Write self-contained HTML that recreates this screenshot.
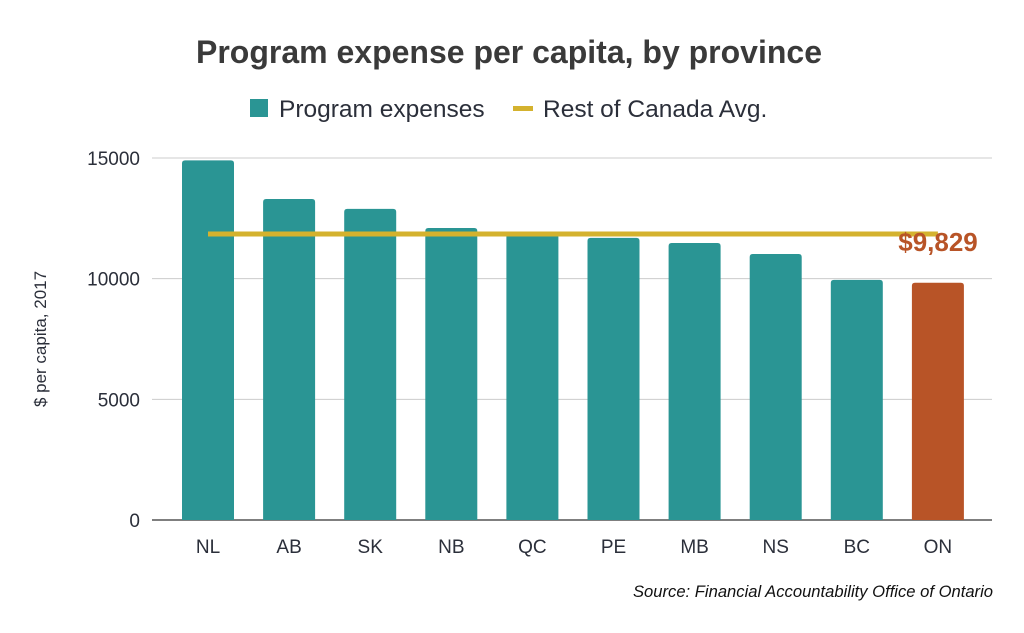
<!DOCTYPE html>
<html><head><meta charset="utf-8"><style>
body{margin:0;background:#fff;}
svg{display:block;font-family:"Liberation Sans",sans-serif;}
</style></head><body>
<svg width="1024" height="633" viewBox="0 0 1024 633">
<text x="509" y="63" text-anchor="middle" font-size="32" font-weight="bold" fill="#3a3a3a">Program expense per capita, by province</text>
<g>
<rect x="250" y="99" width="18" height="18" fill="#2a9594"/>
<text x="279" y="117" font-size="24.5" fill="#2b2f3a">Program expenses</text>
<rect x="513" y="106" width="20" height="5" fill="#d4b22e"/>
<text x="543" y="117" font-size="24.5" fill="#2b2f3a">Rest of Canada Avg.</text>
</g>
<text transform="translate(46,339) rotate(-90)" text-anchor="middle" font-size="17" fill="#2b2f3a">$ per capita, 2017</text>
<g id="grid"></g><g id="bars"></g><g id="xlabels"></g><g id="avg"></g>
<text x="938" y="251" text-anchor="middle" font-size="26" font-weight="bold" fill="#b85427">$9,829</text>
<text x="993" y="597" text-anchor="end" font-size="16.6" font-style="italic" fill="#111">Source: Financial Accountability Office of Ontario</text>
</svg>
<script>
const categories=["NL","AB","SK","NB","QC","PE","MB","NS","BC","ON"];
const values=[14900,13300,12890,12100,11890,11690,11480,11020,9950,9829];
const avgValue=11850;
const yTicks=[0,5000,10000,15000];
const NS="http://www.w3.org/2000/svg";
const gx0=152,gx1=992,y0=520,yTop=158,yMax=15000;
const band=81.1,bx0=208-band/2;
const y=v=>y0-(v/yMax)*(y0-yTop);
const cx=i=>bx0+band*(i+0.5);
function mk(t,a,p){const e=document.createElementNS(NS,t);for(const k in a)e.setAttribute(k,a[k]);p.appendChild(e);return e;}
const grid=document.getElementById('grid');
yTicks.forEach(t=>{
 const l=mk('line',{x1:gx0,x2:gx1,y1:y(t),y2:y(t),stroke:t===0?'#333':'#ccc','stroke-width':t===0?1.2:1},grid);
 
 
 const tx=mk('text',{x:140,y:y(t)+7,'text-anchor':'end','font-size':19,fill:'#2b2f3a'},grid);
 tx.textContent=t;
 
 
});
const bars=document.getElementById('bars'),xl=document.getElementById('xlabels');
categories.forEach((c,i)=>{
 const w=52,top=y(values[i]);
 const r=mk('path',{d:`M${cx(i)-w/2},${y0} V${top+3} Q${cx(i)-w/2},${top} ${cx(i)-w/2+3},${top} H${cx(i)+w/2-3} Q${cx(i)+w/2},${top} ${cx(i)+w/2},${top+3} V${y0} Z`,fill:c==='ON'?'#b85427':'#2a9594'},bars);
 
 
 const t=mk('text',{x:cx(i),y:553,'text-anchor':'middle','font-size':19,fill:'#2b2f3a'},xl);
 t.textContent=c;
 
 
});
const al=mk('line',{x1:cx(0),x2:cx(categories.length-1),y1:y(avgValue),y2:y(avgValue),stroke:'#d4b22e','stroke-width':5},document.getElementById('avg'));


</script>
</body></html>
